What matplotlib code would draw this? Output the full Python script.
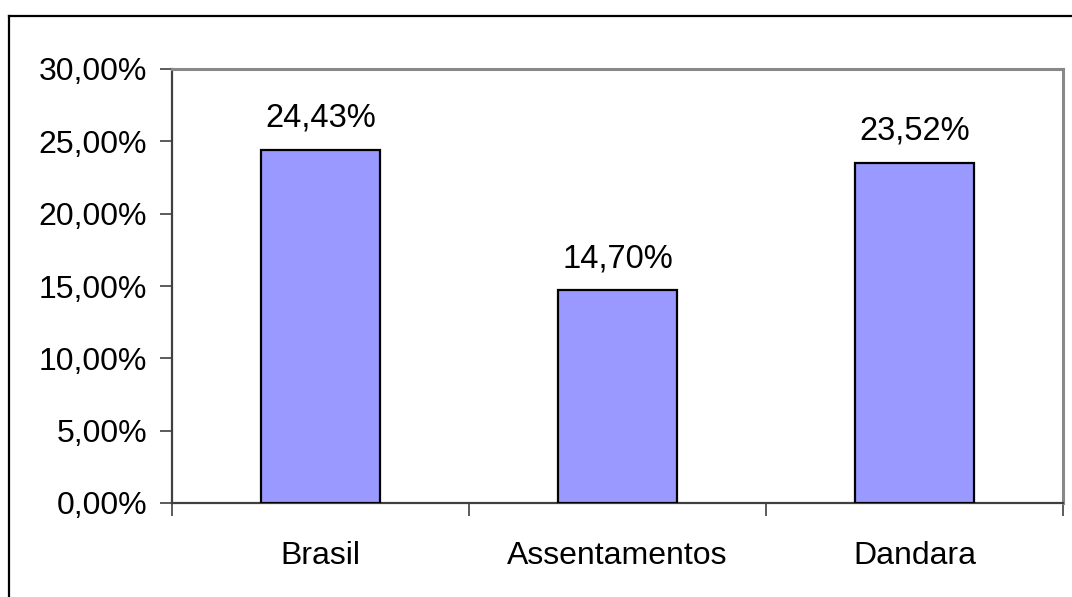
import matplotlib.pyplot as plt
from matplotlib.lines import Line2D
from matplotlib.ticker import FuncFormatter, FixedLocator

plt.rcParams['font.family'] = ['Liberation Sans', 'DejaVu Sans']

# Dados
categorias = ['Brasil', 'Assentamentos', 'Dandara']
valores = [24.43, 14.70, 23.52]
ticks_y = [0, 5, 10, 15, 20, 25, 30]

W, H = 1072, 597
fig = plt.figure(figsize=(W / 100, H / 100), dpi=100)
ax = fig.add_axes([172 / W, 1 - 503 / H, (1063 - 172) / W, (503 - 69) / H])

x = range(len(categorias))
ax.bar(x, valores, width=0.4, color='#9999FF', edgecolor='black', linewidth=1.6, zorder=3)

for xi, v in zip(x, valores):
    ax.text(xi, v + 1.1, f'{v:.2f}%'.replace('.', ','), ha='center', va='bottom', fontsize=23.5)

ax.set_xlim(-0.5, len(categorias) - 0.5)
ax.set_ylim(0, 30)
ax.set_yticks(ticks_y)
ax.yaxis.set_major_formatter(FuncFormatter(lambda v, p: f'{v:.2f}%'.replace('.', ',')))
ax.tick_params(axis='y', labelsize=23, length=9, width=1.2, color='#404040', pad=9)

# ticks do eixo x nas divisões entre categorias, rótulos no centro
ax.xaxis.set_major_locator(FixedLocator([-0.5, 0.5, 1.5, 2.5]))
ax.xaxis.set_minor_locator(FixedLocator(list(x)))
ax.set_xticklabels([''] * 4)
ax.set_xticklabels(categorias, minor=True)
ax.tick_params(axis='x', which='major', length=9, width=1.2, color='#404040')
ax.tick_params(axis='x', which='minor', length=0, labelsize=23, pad=27)

for s in ['left', 'bottom']:
    ax.spines[s].set_color('#404040')
    ax.spines[s].set_linewidth(1.6)
for s in ['top', 'right']:
    ax.spines[s].set_color('#888888')
    ax.spines[s].set_linewidth(2.2)

# moldura externa (cortada à direita e embaixo)
x0, y0 = 9 / W, 1 - 16 / H
fig.add_artist(Line2D([x0, x0], [0, y0], color='black', linewidth=1.6, transform=fig.transFigure))
fig.add_artist(Line2D([x0, 1], [y0, y0], color='black', linewidth=1.6, transform=fig.transFigure))

fig.savefig('out.png', dpi=100)
